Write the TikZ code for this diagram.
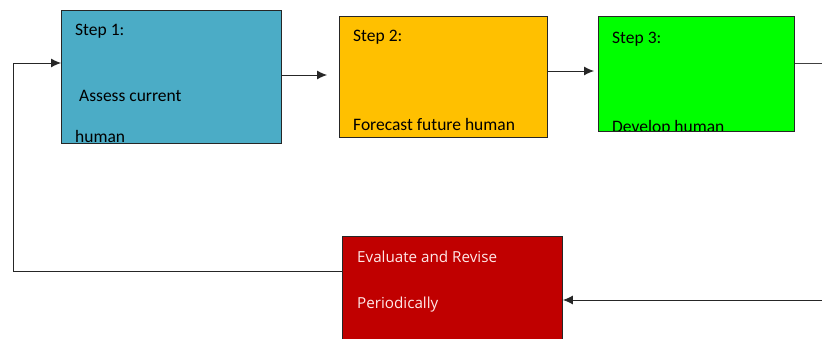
\documentclass[tikz,border=0pt]{standalone}
\usepackage{fontspec}
\setmainfont{Carlito}
\newfontfamily\redfont{Open Sans}
\usetikzlibrary{arrows.meta}
\definecolor{boxblue}{HTML}{4BACC6}
\definecolor{boxorange}{HTML}{FFC000}
\definecolor{boxgreen}{HTML}{00FF00}
\definecolor{boxred}{HTML}{C00000}
\definecolor{redtext}{HTML}{FFE8E8}
\tikzset{
  stepbox/.style={draw=black!85, line width=0.9pt, rectangle, anchor=north west, inner sep=0pt},
  txt/.style={anchor=base west, inner sep=0pt, font=\fontsize{17.5}{20}\selectfont},
  redtxt/.style={anchor=base west, inner sep=0pt, text=redtext, font=\redfont\fontsize{15.2}{18}\selectfont},
  arr/.style={draw=black!85, line width=0.9pt, -{Latex[length=10pt,width=9pt]}},
  ln/.style={draw=black!75, line width=0.9pt}
}
\begin{document}
\begin{tikzpicture}[x=1pt,y=-1pt]
\useasboundingbox (0,0) rectangle (822,339);
\fill[white] (0,0) rectangle (822,339);
% boxes
\node[stepbox, fill=boxblue, minimum width=220pt, minimum height=133pt] (b1) at (61,10) {};
\node[stepbox, fill=boxorange, minimum width=208pt, minimum height=121pt] (b2) at (339,16) {};
\node[stepbox, fill=boxgreen, minimum width=196pt, minimum height=115pt] (b3) at (598,16) {};
\node[stepbox, fill=boxred, minimum width=220pt, minimum height=112pt] (b4) at (342,236) {};
% texts (clipped to boxes)
\begin{scope}
\clip (b1.north west) rectangle (b1.south east);
\node[txt] (t1a) at (75,36) {Step 1:};
\node[txt] (t1b) at (79,102) {Assess current};
\node[txt] (t1c) at (75,143) {human};
\end{scope}
\begin{scope}
\clip (b2.north west) rectangle (b2.south east);
\node[txt] (t2a) at (353,42) {Step 2:};
\node[txt] (t2b) at (353,131) {Forecast future human};
\end{scope}
\begin{scope}
\clip (b3.north west) rectangle (b3.south east);
\node[txt] (t3a) at (612,44) {Step 3:};
\node[txt] (t3b) at (612,133) {Develop human};
\end{scope}
\node[redtxt] (t4a) at (357,262) {Evaluate and Revise};
\node[redtxt] (t4b) at (357,308) {Periodically};
% redraw borders over clipped text
\draw[draw=black!85, line width=0.9pt] (b1.north west) rectangle (b1.south east);
\draw[draw=black!85, line width=0.9pt] (b2.north west) rectangle (b2.south east);
\draw[draw=black!85, line width=0.9pt] (b3.north west) rectangle (b3.south east);
% connectors
\coordinate (e3) at (822,63);
\coordinate (s4) at (822,300);
\coordinate (lx) at (13,0);
\draw[arr] (b1.east |- 0,75) -- ([xshift=-12pt]b2.west |- 0,75);
\draw[arr] (b2.east |- 0,71) -- ([xshift=-4pt]b3.west |- 0,71);
\draw[ln] (b3.east |- e3) -- (e3);
\draw[arr] (s4) -- (b4.east |- s4);
\draw[arr] (b4.west |- 0,271) -- (lx |- 0,271) -- (lx |- 0,63) -- (b1.west |- 0,63);
\end{tikzpicture}
\end{document}
